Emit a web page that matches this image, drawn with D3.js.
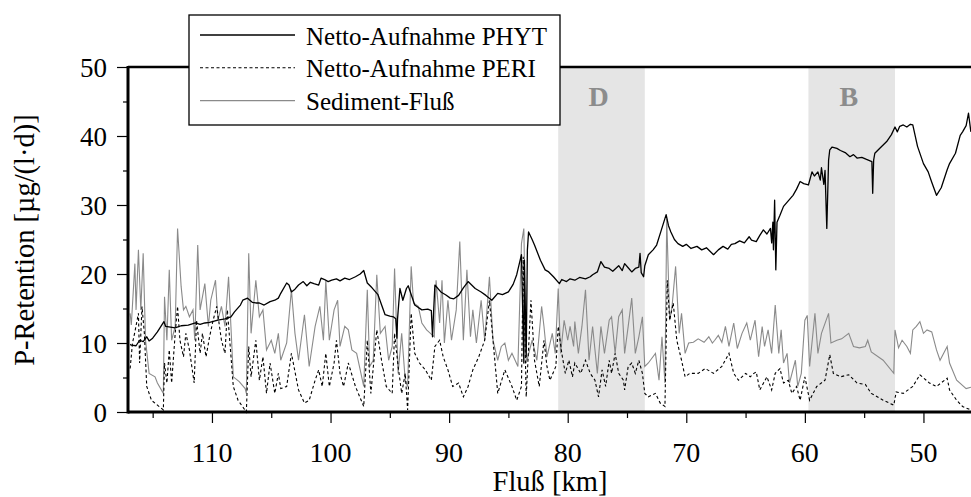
<!DOCTYPE html>
<html><head><meta charset="utf-8">
<script src="https://cdn.jsdelivr.net/npm/d3@7"></script>
</head>
<body style="margin:0">
<svg id="chart" width="971" height="497"></svg>
<script>
// ---- data ----
const seriesNames = ["Netto-Aufnahme PHYT", "Netto-Aufnahme PERI", "Sediment-Fluß"];
const xTicks = [110, 100, 90, 80, 70, 60, 50];
const xMinorTicks = [115, 105, 95, 85, 75, 65, 55];
const yTicks = [0, 10, 20, 30, 40, 50];
const yMinorTicks = [5, 15, 25, 35, 45];
const zones = [{label: "D", from: 80.8, to: 73.5, at: 77.4}, {label: "B", from: 59.7, to: 52.4, at: 56.3}];

const phyt = [[116.9,9.8],[116.8,9.7],[116.4,9.6],[116.1,10.4],[115.8,10.2],[115.5,10.9],[115.3,10.3],[115.0,10.7],[114.6,11.6],[114.05,13.1],[113.9,12.4],[113.5,12.3],[113.1,12.2],[112.6,12.5],[112.0,12.6],[111.4,12.9],[111.0,12.7],[110.6,12.9],[110.2,13.0],[109.5,13.3],[108.9,13.5],[108.4,13.8],[108.1,14.5],[107.6,15.5],[107.4,16.2],[107.0,16.5],[106.6,15.9],[106.3,15.8],[106.0,15.8],[105.6,15.5],[105.1,16.0],[104.7,16.2],[104.4,16.5],[104.2,17.2],[103.7,18.7],[103.5,18.4],[103.3,17.4],[103.0,17.8],[102.7,18.4],[102.3,18.9],[102.0,18.3],[101.7,18.8],[101.4,18.6],[101.0,18.4],[100.8,19.4],[100.5,19.2],[100.2,18.9],[99.9,19.1],[99.5,19.3],[99.2,19.0],[98.8,19.4],[98.4,19.2],[97.9,19.6],[97.5,20.0],[97.2,20.5],[96.9,18.7],[96.5,18.0],[96.0,17.0],[95.4,14.1],[95.0,13.9],[94.7,13.8],[94.5,13.5],[94.4,10.7],[94.35,13.5],[94.15,17.9],[93.9,16.2],[93.6,17.9],[93.45,18.3],[92.9,15.5],[92.3,14.8],[91.8,14.9],[91.5,14.7],[91.4,10.9],[91.3,14.8],[91.2,18.4],[90.7,17.4],[90.3,17.0],[89.9,16.5],[89.6,16.4],[89.2,16.9],[88.8,18.0],[88.4,18.9],[87.8,17.9],[87.3,17.4],[86.9,16.9],[86.4,16.2],[85.9,17.2],[85.5,17.0],[85.0,17.4],[84.6,18.5],[84.3,19.9],[83.9,22.8],[83.8,15.0],[83.7,7.1],[83.65,22.0],[83.5,8.0],[83.4,23.5],[83.3,26.1],[83.0,25.0],[82.8,24.2],[82.3,22.0],[81.9,20.6],[81.6,20.3],[81.2,19.6],[80.7,18.6],[80.5,19.2],[80.1,18.9],[79.8,19.3],[79.4,19.1],[79.0,19.5],[78.5,19.3],[78.1,19.6],[77.9,19.9],[77.5,20.3],[77.2,21.8],[76.9,21.0],[76.5,20.8],[76.2,20.4],[75.7,21.2],[75.4,20.5],[75.2,21.5],[74.9,20.9],[74.6,20.3],[74.3,20.8],[74.0,21.0],[73.9,23.0],[73.8,20.2],[73.6,19.6],[73.5,21.2],[73.2,22.8],[72.8,23.5],[72.5,24.2],[72.1,26.4],[71.7,28.6],[71.5,27.0],[71.3,26.1],[71.0,25.0],[70.7,24.4],[70.3,24.0],[70.0,24.3],[69.6,23.7],[69.1,24.0],[68.7,23.5],[68.3,23.8],[67.7,22.8],[67.3,23.5],[66.9,24.0],[66.5,23.6],[66.2,24.3],[65.9,24.4],[65.5,24.8],[65.1,24.5],[64.7,25.4],[64.5,24.9],[64.1,24.7],[63.8,25.6],[63.5,26.4],[63.2,25.8],[62.9,26.6],[62.8,24.5],[62.7,27.5],[62.65,23.5],[62.55,30.7],[62.45,20.6],[62.35,27.5],[62.1,28.5],[61.8,29.8],[61.4,30.6],[61.0,31.4],[60.7,32.3],[60.4,33.4],[60.1,33.1],[59.7,32.9],[59.4,34.8],[59.2,34.2],[58.9,34.8],[58.7,33.6],[58.6,35.4],[58.4,33.0],[58.3,35.0],[58.15,26.6],[58.0,36.5],[57.9,38.0],[57.7,38.4],[57.3,38.2],[57.0,37.9],[56.6,37.6],[56.2,37.0],[55.9,37.3],[55.6,36.8],[55.2,36.9],[54.8,36.6],[54.5,36.4],[54.35,36.3],[54.28,31.7],[54.2,36.5],[54.1,37.5],[53.7,38.2],[53.1,39.2],[52.7,40.2],[52.4,41.3],[52.2,40.6],[52.0,41.4],[51.7,41.6],[51.4,41.3],[51.1,41.7],[50.9,41.6],[50.5,38.5],[50.0,36.0],[49.6,34.8],[49.3,33.3],[48.9,31.4],[48.5,32.5],[48.0,35.1],[47.8,36.0],[47.3,37.5],[46.9,40.1],[46.7,40.6],[46.4,41.5],[46.2,43.3],[46.0,40.6]];

const peri = [[116.9,6.3],[116.7,10.0],[116.5,11.6],[116.2,14.3],[116.1,7.1],[115.9,15.3],[115.7,11.4],[115.5,3.7],[115.1,1.7],[114.6,1.0],[114.1,0.3],[114.0,7.1],[113.8,4.2],[113.6,9.0],[113.4,4.2],[113.1,11.4],[112.9,15.3],[112.7,10.4],[112.4,8.0],[112.2,11.4],[111.9,9.0],[111.5,4.2],[111.3,13.3],[111.0,8.5],[110.8,11.4],[110.5,8.0],[110.2,10.9],[109.9,13.3],[109.6,15.3],[109.2,10.4],[108.9,8.5],[108.7,14.8],[108.2,3.7],[107.8,1.7],[107.1,0.0],[106.9,9.5],[106.7,5.1],[106.3,10.4],[106.0,4.6],[105.7,8.0],[105.4,2.7],[105.1,7.1],[104.7,2.7],[104.4,5.6],[104.2,3.4],[103.7,3.7],[103.3,8.5],[102.7,3.2],[102.2,1.3],[101.8,1.7],[101.3,4.6],[101.0,6.1],[100.7,3.7],[100.4,8.5],[100.1,3.7],[99.7,7.1],[99.5,10.4],[99.2,5.6],[98.9,3.7],[98.5,7.1],[97.9,3.7],[97.2,0.8],[96.9,10.4],[96.6,2.7],[96.1,11.9],[95.7,7.5],[95.3,3.7],[94.8,2.7],[94.6,11.4],[94.3,6.6],[94.0,2.7],[93.7,5.6],[93.5,0.3],[93.2,14.3],[92.9,8.5],[92.5,7.1],[92.0,6.1],[91.5,4.6],[91.2,9.5],[90.8,10.4],[90.5,8.0],[90.1,6.1],[89.7,3.7],[89.2,4.2],[88.8,2.2],[88.4,3.7],[88.0,6.1],[87.5,8.0],[87.0,10.4],[86.6,16.2],[86.3,10.4],[85.9,2.7],[85.3,6.1],[84.7,3.7],[84.3,1.7],[83.9,3.7],[83.75,22.5],[83.5,2.2],[83.1,16.2],[82.8,7.5],[82.4,3.7],[82.0,10.4],[81.75,6.6],[81.5,4.6],[81.0,6.6],[80.8,12.4],[80.5,8.5],[80.2,5.6],[79.9,7.5],[79.6,5.1],[79.4,7.1],[78.9,5.6],[78.5,7.5],[78.1,5.6],[77.7,4.6],[77.4,2.2],[77.1,6.1],[76.8,3.7],[76.5,7.5],[76.3,5.6],[76.0,8.5],[75.7,5.6],[75.3,4.6],[75.2,3.2],[74.9,6.6],[74.6,7.1],[74.3,5.6],[74.0,7.5],[73.7,5.6],[73.5,2.7],[73.2,2.2],[72.6,2.7],[72.2,1.3],[71.8,0.8],[71.6,19.1],[71.4,13.3],[71.1,15.8],[70.8,10.4],[70.4,7.5],[70.1,5.1],[69.7,5.6],[69.0,5.6],[68.4,6.3],[67.7,5.6],[67.0,6.6],[66.4,8.5],[66.0,5.6],[65.6,4.6],[65.0,5.6],[64.6,5.1],[64.3,5.6],[64.1,5.8],[63.8,3.2],[63.2,5.1],[62.8,3.2],[62.5,5.6],[62.1,6.3],[61.8,4.2],[61.4,4.6],[61.1,2.7],[60.7,3.7],[60.4,1.7],[60.0,5.1],[59.6,1.7],[59.0,3.7],[58.3,4.6],[57.9,8.3],[57.6,5.6],[57.0,5.1],[56.3,5.4],[55.6,4.2],[54.9,4.0],[54.4,2.7],[53.9,2.2],[53.4,1.7],[52.5,1.0],[52.3,2.9],[51.7,2.7],[50.9,3.7],[50.3,5.4],[49.5,4.2],[48.9,3.7],[48.0,4.9],[47.8,3.2],[47.2,1.7],[46.7,0.8],[46.0,0.3]];

const sediment = [[116.9,14.3],[116.8,12.6],[116.5,21.5],[116.4,14.8],[116.2,23.5],[116.0,14.8],[115.8,23.0],[115.6,10.4],[115.3,5.6],[114.8,5.1],[114.6,4.2],[114.1,2.7],[114.0,16.7],[113.8,10.4],[113.6,20.6],[113.4,10.4],[113.1,12.4],[112.9,26.6],[112.6,18.2],[112.4,14.8],[112.2,15.3],[111.9,13.8],[111.6,14.8],[111.45,10.4],[111.2,24.2],[111.0,14.8],[110.6,18.6],[110.3,12.4],[110.1,16.2],[109.7,19.1],[109.5,13.3],[109.2,15.3],[108.9,12.4],[108.6,19.6],[108.4,12.4],[108.2,5.1],[107.7,4.4],[107.2,3.4],[107.1,2.7],[106.9,23.0],[106.7,11.4],[106.3,19.1],[106.0,13.8],[105.7,14.8],[105.4,9.0],[105.0,10.4],[104.7,8.5],[104.4,11.4],[104.2,7.5],[103.7,10.0],[103.3,17.7],[103.0,11.4],[102.7,7.5],[102.2,14.1],[101.8,6.6],[101.3,12.4],[100.9,15.3],[100.6,10.4],[100.4,19.1],[100.1,10.4],[99.7,14.8],[99.4,16.2],[99.2,9.5],[98.8,12.4],[98.5,11.9],[98.2,9.0],[97.8,8.5],[97.2,3.7],[96.9,17.7],[96.7,6.6],[96.4,7.5],[96.1,19.9],[95.8,11.4],[95.4,12.4],[95.1,7.5],[94.8,9.5],[94.6,20.8],[94.3,5.6],[94.0,11.4],[93.7,4.6],[93.5,3.7],[93.2,21.1],[93.0,15.8],[92.6,15.3],[92.3,12.9],[91.9,11.9],[91.25,10.9],[91.1,19.1],[90.8,12.9],[90.6,19.1],[90.4,10.0],[90.1,16.2],[89.8,10.4],[89.4,14.8],[89.1,24.7],[88.8,10.4],[88.5,20.6],[88.2,10.9],[88.0,14.8],[87.7,10.0],[87.3,16.2],[87.0,10.4],[86.6,19.6],[86.3,10.4],[85.9,7.5],[85.6,9.5],[85.3,10.0],[85.0,7.5],[84.7,8.5],[84.2,6.6],[83.9,24.4],[83.7,26.6],[83.5,7.1],[83.0,10.4],[82.6,7.5],[82.2,15.3],[82.0,12.4],[81.75,8.0],[81.3,11.4],[81.05,8.5],[80.8,17.9],[80.6,8.5],[80.3,13.3],[80.0,10.4],[79.8,12.4],[79.5,9.5],[79.4,13.1],[79.1,8.5],[78.8,12.4],[78.5,17.7],[78.2,7.5],[77.9,12.4],[77.5,5.6],[77.2,12.4],[76.9,8.5],[76.5,13.3],[76.3,13.8],[76.0,8.5],[75.7,13.8],[75.4,14.8],[75.2,8.5],[74.9,12.4],[74.6,16.5],[74.3,8.5],[74.0,10.9],[73.7,13.8],[73.5,6.6],[73.2,7.1],[72.6,8.5],[72.3,4.6],[72.05,10.9],[71.8,4.2],[71.65,28.0],[71.4,13.3],[71.2,15.3],[70.9,21.1],[70.6,11.4],[70.4,14.3],[70.1,8.5],[69.8,10.0],[69.4,10.1],[69.0,10.6],[68.5,10.1],[68.1,10.9],[67.8,10.0],[67.6,10.4],[67.3,11.1],[67.0,10.1],[66.7,12.4],[66.4,9.5],[66.0,12.9],[65.7,9.2],[65.3,11.4],[64.9,12.9],[64.6,10.4],[64.2,13.3],[63.9,8.0],[63.6,12.4],[63.4,9.5],[63.1,11.9],[62.8,8.5],[62.5,15.5],[62.2,8.5],[62.0,11.9],[61.8,7.1],[61.5,8.5],[61.3,4.2],[60.8,7.5],[60.6,3.7],[60.3,5.6],[60.0,13.3],[59.8,14.0],[59.6,6.6],[59.15,14.3],[58.9,8.5],[58.6,11.4],[58.0,14.3],[57.8,10.0],[57.3,10.4],[56.9,10.6],[56.3,11.4],[55.9,9.5],[55.4,9.3],[54.9,9.5],[54.7,10.4],[54.4,8.7],[53.4,7.5],[52.5,5.6],[52.4,11.9],[52.1,9.3],[51.8,10.4],[51.4,9.5],[51.1,8.5],[50.9,11.9],[50.6,12.4],[50.3,13.1],[50.0,11.4],[49.7,11.9],[49.3,11.6],[48.9,9.0],[48.6,7.5],[48.0,9.5],[47.8,7.1],[47.2,4.6],[46.4,3.4],[46.0,3.6]];

// ---- layout ----
const FONT = "'Liberation Serif'";
const svg = d3.select("#chart");
const plot = {left: 128, right: 971, top: 67, bottom: 412};
const x = d3.scaleLinear().domain([117.08, 45.99]).range([plot.left, plot.right]);
const y = d3.scaleLinear().domain([0, 50]).range([plot.bottom, plot.top]);

// shaded zones
const zg = svg.append("g");
zones.forEach(z => {
  zg.append("rect").attr("x", x(z.from)).attr("y", y(50))
    .attr("width", x(z.to) - x(z.from)).attr("height", y(0) - y(50))
    .attr("fill", "#e5e5e5");
  zg.append("text").attr("x", x(z.at)).attr("y", 106).attr("text-anchor", "middle")
    .attr("font-size", 28).attr("font-weight", "bold").attr("fill", "#8c8c8c")
    .style("font-family", FONT).text(z.label);
});

// lines
const line = d3.line().x(d => x(d[0])).y(d => y(d[1]));
const lg = svg.append("g");
lg.append("path").datum(sediment).attr("d", line).attr("fill", "none")
  .attr("stroke", "#8a8a8a").attr("stroke-width", 1.1);
lg.append("path").datum(peri).attr("d", line).attr("fill", "none")
  .attr("stroke", "#000").attr("stroke-width", 1.1).attr("stroke-dasharray", "3,2.5");
lg.append("path").datum(phyt).attr("d", line).attr("fill", "none")
  .attr("stroke", "#000").attr("stroke-width", 1.3).attr("stroke-linejoin", "round");

// axes (labels drawn as standalone text elements)
const gx = svg.append("g").attr("transform", `translate(0,${plot.bottom})`)
  .call(d3.axisBottom(x).tickValues(xTicks).tickSize(11).tickSizeOuter(0).tickFormat(""));
gx.select(".domain").remove();
gx.selectAll(".tick line").attr("stroke", "#000").attr("stroke-width", 1.2);
svg.append("g").attr("transform", `translate(0,${plot.bottom})`)
  .call(d3.axisBottom(x).tickValues(xMinorTicks).tickSize(6).tickFormat(""))
  .call(g => g.select(".domain").remove())
  .selectAll(".tick line").attr("stroke-width", 1.2);
xTicks.forEach(v => {
  svg.append("text").attr("x", x(v)).attr("y", 462).attr("text-anchor", "middle")
    .attr("font-size", 28).style("font-family", FONT).text(v);
});

const gy = svg.append("g").attr("transform", `translate(${plot.left},0)`)
  .call(d3.axisLeft(y).tickValues(yTicks).tickSize(11).tickSizeOuter(0).tickFormat(""));
gy.select(".domain").remove();
gy.selectAll(".tick line").attr("stroke", "#000").attr("stroke-width", 1.2);
svg.append("g").attr("transform", `translate(${plot.left},0)`)
  .call(d3.axisLeft(y).tickValues(yMinorTicks).tickSize(5).tickFormat(""))
  .call(g => g.select(".domain").remove())
  .selectAll(".tick line").attr("stroke-width", 1.2);
yTicks.forEach(v => {
  svg.append("text").attr("x", plot.left - 21).attr("y", y(v) + 9.7).attr("text-anchor", "end")
    .attr("font-size", 27).style("font-family", FONT).text(v);
});

// frame lines
svg.append("line").attr("x1", plot.left).attr("x2", plot.right).attr("y1", plot.bottom).attr("y2", plot.bottom)
  .attr("stroke", "#000").attr("stroke-width", 3);
svg.append("line").attr("x1", plot.left).attr("x2", plot.left).attr("y1", plot.top - 1).attr("y2", plot.bottom + 1.5)
  .attr("stroke", "#000").attr("stroke-width", 3);
svg.append("line").attr("x1", plot.left).attr("x2", plot.right).attr("y1", plot.top).attr("y2", plot.top)
  .attr("stroke", "#000").attr("stroke-width", 2.5);

// axis titles
svg.append("text").attr("transform", `translate(34,240) rotate(-90)`).attr("text-anchor", "middle")
  .attr("font-size", 28.5).style("font-family", FONT).text("P-Retention [µg/(l·d)]");
svg.append("text").attr("x", 550).attr("y", 491).attr("text-anchor", "middle")
  .attr("font-size", 28.5).style("font-family", FONT).text("Fluß [km]");

// legend
const leg = svg.append("g");
leg.append("rect").attr("x", 189).attr("y", 15).attr("width", 371).attr("height", 110)
  .attr("fill", "#fff").attr("stroke", "#000").attr("stroke-width", 1.3);
const legStyles = [
  {stroke: "#000", dash: null, w: 1.3},
  {stroke: "#000", dash: "3,2.5", w: 1.1},
  {stroke: "#8a8a8a", dash: null, w: 1.1}
];
seriesNames.forEach((name, i) => {
  const cy = 35 + i * 32.8;
  leg.append("line").attr("x1", 200).attr("x2", 295).attr("y1", cy).attr("y2", cy)
    .attr("stroke", legStyles[i].stroke).attr("stroke-width", legStyles[i].w)
    .attr("stroke-dasharray", legStyles[i].dash);
  leg.append("text").attr("x", 306).attr("y", cy + 9.5).attr("font-size", 25)
    .style("font-family", FONT).text(name);
});

// force text layout so the chosen font is resolved before capture
svg.selectAll("text").each(function() { this.getComputedTextLength(); });
</script></body></html>
